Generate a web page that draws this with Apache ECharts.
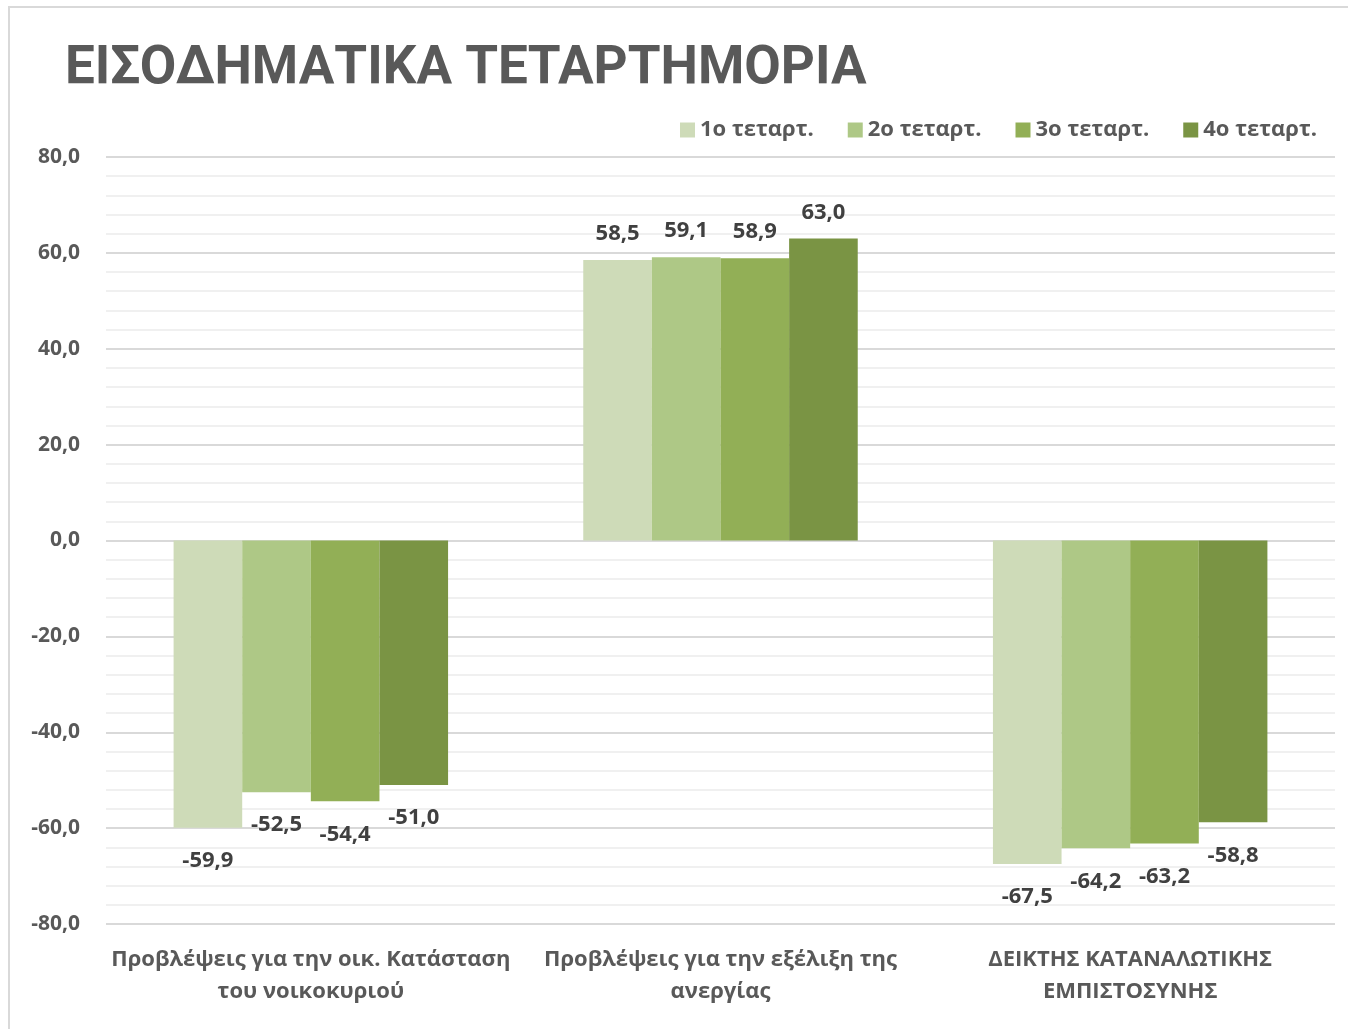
<!DOCTYPE html>
<html>
<head>
<meta charset="utf-8">
<script src="https://cdn.jsdelivr.net/npm/echarts@6/dist/echarts.min.js"></script>
<style>
  html, body { margin: 0; padding: 0; background: #fff; }
  #frame { position: absolute; left: 8px; top: 6px; width: 1400px; height: 1100px; border: 2px solid #d9d9d9; }
  #chart { position: absolute; left: 0; top: 0; width: 1348px; height: 1029px; }
</style>
</head>
<body>
<div id="frame"></div>
<div id="chart"></div>
<script>
var categories = [
  'Προβλέψεις για την οικ. Κατάσταση\nτου νοικοκυριού',
  'Προβλέψεις για την εξέλιξη της\nανεργίας',
  'ΔΕΙΚΤΗΣ ΚΑΤΑΝΑΛΩΤΙΚΗΣ\nΕΜΠΙΣΤΟΣΥΝΗΣ'
];
var seriesNames = ['1ο τεταρτ.', '2ο τεταρτ.', '3ο τεταρτ.', '4ο τεταρτ.'];
var q1 = [-59.9, 58.5, -67.5];
var q2 = [-52.5, 59.1, -64.2];
var q3 = [-54.4, 58.9, -63.2];
var q4 = [-51.0, 63.0, -58.8];
var colors = ['#cedbb8', '#aec886', '#92af56', '#7a9444'];

var font = '"Open Sans", "Noto Sans", sans-serif';
var textColor = '#595959';

function fmt(v) {
  return v.toFixed(1).replace('.', ',');
}

function makeSeries(name, values, color) {
  return {
    name: name,
    type: 'bar',
    barGap: '0%',
    barCategoryGap: '33%',
    itemStyle: { color: color },
    data: values.map(function (v) {
      return {
        value: v,
        label: {
          position: v < 0 ? 'bottom' : 'top',
          distance: v < 0 ? 22 : 15
        }
      };
    }),
    label: {
      show: true,
      formatter: function (p) { return fmt(p.value); },
      color: '#404040',
      fontFamily: font,
      fontWeight: 'bold',
      fontSize: 22
    }
  };
}

var chart = echarts.init(document.getElementById('chart'));
chart.setOption({
  animation: false,
  backgroundColor: 'transparent',
  title: {
    text: 'ΕΙΣΟΔΗΜΑΤΙΚΑ ΤΕΤΑΡΤΗΜΟΡΙΑ',
    left: 60,
    top: 38,
    textStyle: {
      fontFamily: 'Roboto, "Open Sans", sans-serif',
      fontWeight: 'bold',
      fontSize: 53,
      color: textColor
    }
  },
  legend: {
    right: 26,
    top: 114,
    itemWidth: 15,
    itemHeight: 15,
    itemGap: 34,
    icon: 'rect',
    textStyle: {
      fontFamily: font,
      fontSize: 22,
      fontWeight: 'bold',
      color: textColor
    },
    data: seriesNames
  },
  grid: {
    left: 106,
    right: 13,
    top: 157,
    bottom: 105,
    containLabel: false
  },
  xAxis: {
    type: 'category',
    data: categories,
    axisLine: { show: false },
    axisTick: { show: false },
    axisLabel: {
      interval: 0,
      margin: 20,
      fontFamily: font,
      fontSize: 22,
      fontWeight: 'bold',
      lineHeight: 32,
      color: textColor,
      verticalAlign: 'top'
    }
  },
  yAxis: {
    type: 'value',
    min: -80,
    max: 80,
    interval: 20,
    axisLine: { show: false },
    axisTick: { show: false },
    axisLabel: {
      margin: 26,
      fontFamily: font,
      fontSize: 21,
      fontWeight: 'bold',
      color: textColor,
      formatter: function (v) { return fmt(v); }
    },
    splitLine: { lineStyle: { color: '#d9d9d9', width: 2 } },
    minorTick: { show: false, splitNumber: 5 },
    minorSplitLine: { show: true, lineStyle: { color: '#f0f0f0', width: 2 } }
  },
  series: [
    makeSeries(seriesNames[0], q1, colors[0]),
    makeSeries(seriesNames[1], q2, colors[1]),
    makeSeries(seriesNames[2], q3, colors[2]),
    makeSeries(seriesNames[3], q4, colors[3])
  ]
});
</script>
</body>
</html>
